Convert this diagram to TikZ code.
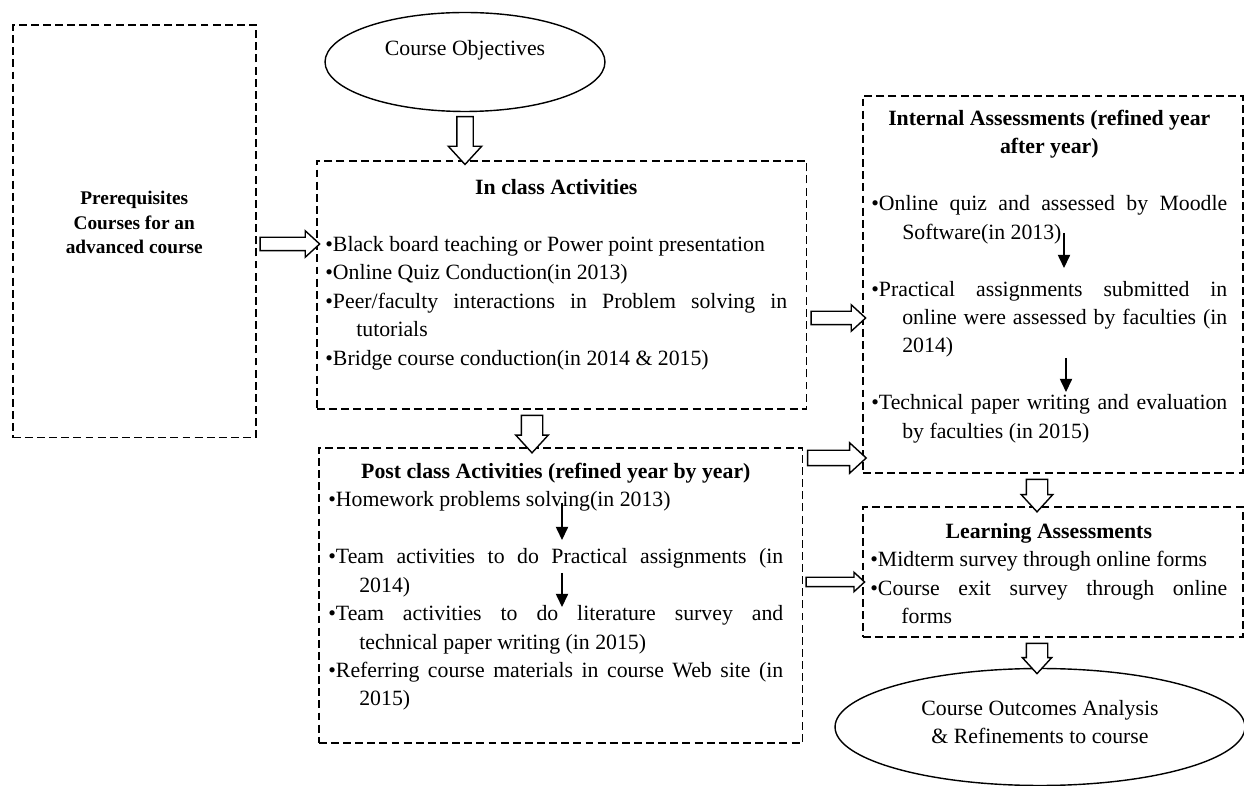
\documentclass[tikz,border=0pt]{standalone}
\usepackage{fontspec}
\setmainfont{Liberation Serif}
\usetikzlibrary{arrows.meta,shapes.geometric,shapes.arrows,calc}

\newcommand{\bitem}{\par\noindent\hangindent=0.62cm\hangafter=1\strut\textbullet}
\newcommand{\skipline}{\par\vspace{16.2pt}}
\newcommand{\hollowto}[3]{\path let \p1=($(#3)-(#2)$) in (#2) -- (#3)
  node[midway, sloped, allow upside down, #1, minimum height={veclen(\x1,\y1)}] {};}

\tikzset{
  box/.style={draw, dash pattern=on 4.5pt off 2.4pt, line width=0.9pt, anchor=north west, inner sep=0pt},
  oval/.style={draw, ellipse, line width=0.8pt, inner sep=0pt},
  txt/.style={anchor=north west, inner sep=0pt, align=justify},
  hollow/.style 2 args={single arrow, draw, fill=white, line width=0.8pt, inner xsep=0pt,
    inner ysep=#1, single arrow head extend=#2, single arrow tip angle=85},
  seq/.style={-{Triangle[length=7.5pt,width=7pt]}, line width=0.7pt}
}

\begin{document}
\begin{tikzpicture}[x=0.02cm, y=-0.02cm, font=\fontsize{12.4}{16.2}\selectfont]
  \useasboundingbox (0,0) rectangle (1244,786);

  % boxes
  \node[box, minimum width=4.86cm, minimum height=8.26cm,
        label={[yshift=0.17cm, align=center, font=\fontsize{11}{14}\selectfont\bfseries]center:Prerequisites\\Courses for an\\advanced course}]
        (prereq) at (12,24) {};
  \node[box, minimum width=9.8cm, minimum height=4.96cm] (inclass) at (316,160) {};
  \node[box, minimum width=7.6cm, minimum height=7.54cm] (internal) at (862,95) {};
  \node[box, minimum width=9.68cm, minimum height=5.9cm] (post) at (318,447) {};
  \node[box, minimum width=7.6cm, minimum height=2.6cm] (learning) at (862,506) {};

  % ovals
  \node[oval, minimum width=5.6cm, minimum height=1.98cm,
        label={[yshift=0.24cm]center:Course Objectives}] (obj) at (465,62) {};
  \node[oval, minimum width=8.2cm, minimum height=2.34cm,
        label={[yshift=0.1cm, align=center]center:Course Outcomes Analysis\\\& Refinements to course}] (outcome) at (1040,727) {};

  % box texts
  \node[txt, text width=9.24cm] (inclass-txt) at (325,174) {%
    {\centering\bfseries\strut In class Activities\par}\skipline
    \bitem Black board teaching or Power point presentation
    \bitem Online Quiz Conduction(in 2013)
    \bitem Peer/faculty interactions in Problem solving in\linebreak tutorials
    \bitem Bridge course conduction(in 2014 \& 2015)\par};
  \node[txt, text width=7.12cm] (internal-txt) at (871,105) {%
    {\centering\bfseries\strut Internal Assessments (refined year\\after year)\par}\skipline
    \bitem Online quiz and assessed by Moodle\linebreak Software(in 2013)\skipline
    \bitem Practical assignments submitted in\linebreak online were assessed by faculties (in\linebreak 2014)\skipline
    \bitem Technical paper writing and evaluation\linebreak by faculties (in 2015)\par};
  \node[txt, text width=9.1cm] (post-txt) at (328,458) {%
    {\centering\bfseries\strut Post class Activities (refined year by year)\par}
    \bitem Homework problems solving(in 2013)\skipline
    \bitem Team activities to do Practical assignments (in\linebreak 2014)
    \bitem Team activities to do literature survey and\linebreak technical paper writing (in 2015)
    \bitem Referring course materials in course Web site (in\linebreak 2015)\par};
  \node[txt, text width=7.14cm] (learning-txt) at (870,518) {%
    {\centering\bfseries\strut Learning Assessments\par}
    \bitem Midterm survey through online forms
    \bitem Course exit survey through online\linebreak forms\par};

  % hollow arrows between blocks
  \hollowto{hollow={0.12cm}{0.13cm}}{prereq.east |- 0,244}{inclass.west |- 0,244}
  \hollowto{hollow={0.15cm}{0.17cm}}{obj.south}{obj.south |- inclass.north}
  \hollowto{hollow={0.2cm}{0.11cm}}{inclass.south -| 532,0}{post.north -| 532,0}
  \hollowto{hollow={0.12cm}{0.13cm}}{inclass.east |- 0,318}{internal.west |- 0,318}
  \hollowto{hollow={0.14cm}{0.15cm}}{post.east |- 0,458}{internal.west |- 0,458}
  \hollowto{hollow={0.08cm}{0.1cm}}{post.east |- 0,582}{learning.west |- 0,582}
  \hollowto{hollow={0.2cm}{0.1cm}}{internal.south -| 1037,0}{learning.north -| 1037,0}
  \hollowto{hollow={0.2cm}{0.08cm}}{learning.south -| 1037,0}{outcome.north -| 1037,0}

  % year to year steps
  \coordinate (ia1) at (1064,233); \coordinate (ib1) at (1064,268);
  \coordinate (ia2) at (1066,358); \coordinate (ib2) at (1066,392);
  \coordinate (pa1) at (562,503);  \coordinate (pb1) at (562,540);
  \coordinate (pa2) at (562,573);  \coordinate (pb2) at (562,607);
  \draw[seq] (ia1) -- (ib1);
  \draw[seq] (ia2) -- (ib2);
  \draw[seq] (pa1) -- (pb1);
  \draw[seq] (pa2) -- (pb2);
\end{tikzpicture}
\end{document}
